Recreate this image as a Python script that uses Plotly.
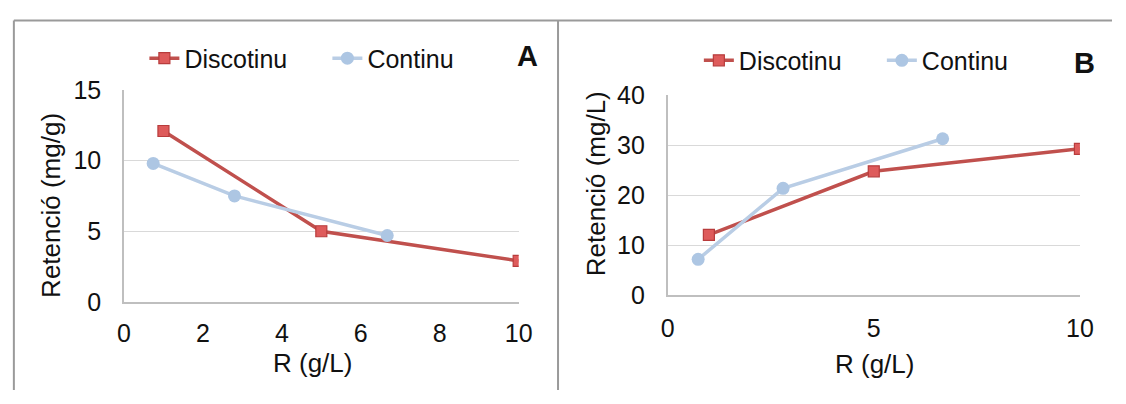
import plotly.graph_objects as go

# ---- data ----
r_disc = [1, 5, 10]
r_cont = [0.74, 2.8, 6.67]
retA_disc = [12.1, 5.0, 2.9]
retA_cont = [9.8, 7.5, 4.7]
retB_disc = [12.1, 24.8, 29.3]
retB_cont = [7.2, 21.4, 31.3]
series_names = ["Discotinu", "Continu"]
panel_labels = ["A", "B"]
x_title = "R (g/L)"
y_titles = ["Retenció (mg/g)", "Retenció (mg/L)"]

W, H = 1126, 404
FONT = "Liberation Sans, Arial, sans-serif"
RED = "#c0504d"
RED_FILL = "#de5b5b"
BLUE = "#b9cde5"
BLUE_FILL = "#adc6e3"
TXT = "#111111"

def px(x):
    return x / W

def py(y):
    return 1 - y / H

fig = go.Figure()

def add_pair(xaxis, yaxis, ydisc, ycont, legend):
    fig.add_trace(go.Scatter(
        x=r_disc, y=ydisc, name=series_names[0], mode="lines+markers",
        line=dict(color=RED, width=3.5),
        marker=dict(symbol="square", size=11, color=RED_FILL, line=dict(color="#b83c3c", width=1.2)),
        xaxis=xaxis, yaxis=yaxis, legend=legend))
    fig.add_trace(go.Scatter(
        x=r_cont, y=ycont, name=series_names[1], mode="lines+markers",
        line=dict(color=BLUE, width=3.5),
        marker=dict(symbol="circle", size=13, color=BLUE_FILL),
        xaxis=xaxis, yaxis=yaxis, legend=legend))

add_pair("x", "y", retA_disc, retA_cont, "legend")
add_pair("x2", "y2", retB_disc, retB_cont, "legend2")

tickfont = dict(family=FONT, size=25, color=TXT)
titlefont = dict(family=FONT, size=26, color=TXT)
xaxis_common = dict(
    showgrid=False, zeroline=False, showline=True, linecolor="#bfbfbf", linewidth=1.5,
    ticks="", tickfont=tickfont, range=[0, 10],
)
yaxis_common = dict(
    showgrid=True, gridcolor="#d9d9d9", gridwidth=1, zeroline=False,
    showline=True, linecolor="#bfbfbf", linewidth=1.5,
    ticks="", tickfont=tickfont, ticklabelstandoff=16,
)
legfont = dict(family=FONT, size=25, color=TXT)

def title_ann(text, x, y, angle=0):
    return dict(text=text, x=px(x), y=py(y), xref="paper", yref="paper",
                xanchor="center", yanchor="middle", textangle=angle,
                showarrow=False, font=titlefont)

fig.update_layout(
    width=W, height=H, margin=dict(l=0, r=0, t=0, b=0),
    paper_bgcolor="white", plot_bgcolor="white",
    showlegend=True,
    xaxis=dict(domain=[px(119.2), px(521.4)], dtick=2, anchor="y",
               ticklabelstandoff=8, **xaxis_common),
    yaxis=dict(domain=[py(309.3), py(81.7)], range=[0, 15], dtick=5, anchor="x", **yaxis_common),
    xaxis2=dict(domain=[px(673.2), px(1093.3)], dtick=5, anchor="y2",
                ticklabelstandoff=10, **xaxis_common),
    yaxis2=dict(domain=[py(302.3), py(87.3)], range=[0, 40], dtick=10, anchor="x2", **yaxis_common),
    legend=dict(orientation="h", x=px(140), xanchor="left", y=py(47.7), yanchor="middle",
                font=legfont, bgcolor="rgba(0,0,0,0)",
                entrywidth=138, entrywidthmode="pixels"),
    legend2=dict(orientation="h", x=px(705), xanchor="left", y=py(50), yanchor="middle",
                 font=legfont, bgcolor="rgba(0,0,0,0)",
                 entrywidth=138, entrywidthmode="pixels"),
    annotations=[
        dict(text="<b>%s</b>" % panel_labels[0], x=px(530), y=py(45), xref="paper", yref="paper",
             xanchor="center", yanchor="middle",
             showarrow=False, font=dict(family=FONT, size=29, color=TXT)),
        dict(text="<b>%s</b>" % panel_labels[1], x=px(1098), y=py(53), xref="paper", yref="paper",
             xanchor="center", yanchor="middle",
             showarrow=False, font=dict(family=FONT, size=29, color=TXT)),
        title_ann(x_title, 311, 375),
        title_ann(x_title, 884, 376),
        title_ann(y_titles[0], 45, 206, -90),
        title_ann(y_titles[1], 601, 182, -90),
    ],
    shapes=[
        dict(type="line", xref="paper", yref="paper", x0=px(7), x1=1, y0=py(7), y1=py(7),
             line=dict(color="#9a9a9a", width=2)),
        dict(type="line", xref="paper", yref="paper", x0=px(7), x1=px(7), y0=py(7), y1=0,
             line=dict(color="#9a9a9a", width=2)),
        dict(type="line", xref="paper", yref="paper", x0=px(561.5), x1=px(561.5), y0=py(7), y1=0,
             line=dict(color="#9a9a9a", width=2)),
    ],
)

fig.write_html("out.html")
